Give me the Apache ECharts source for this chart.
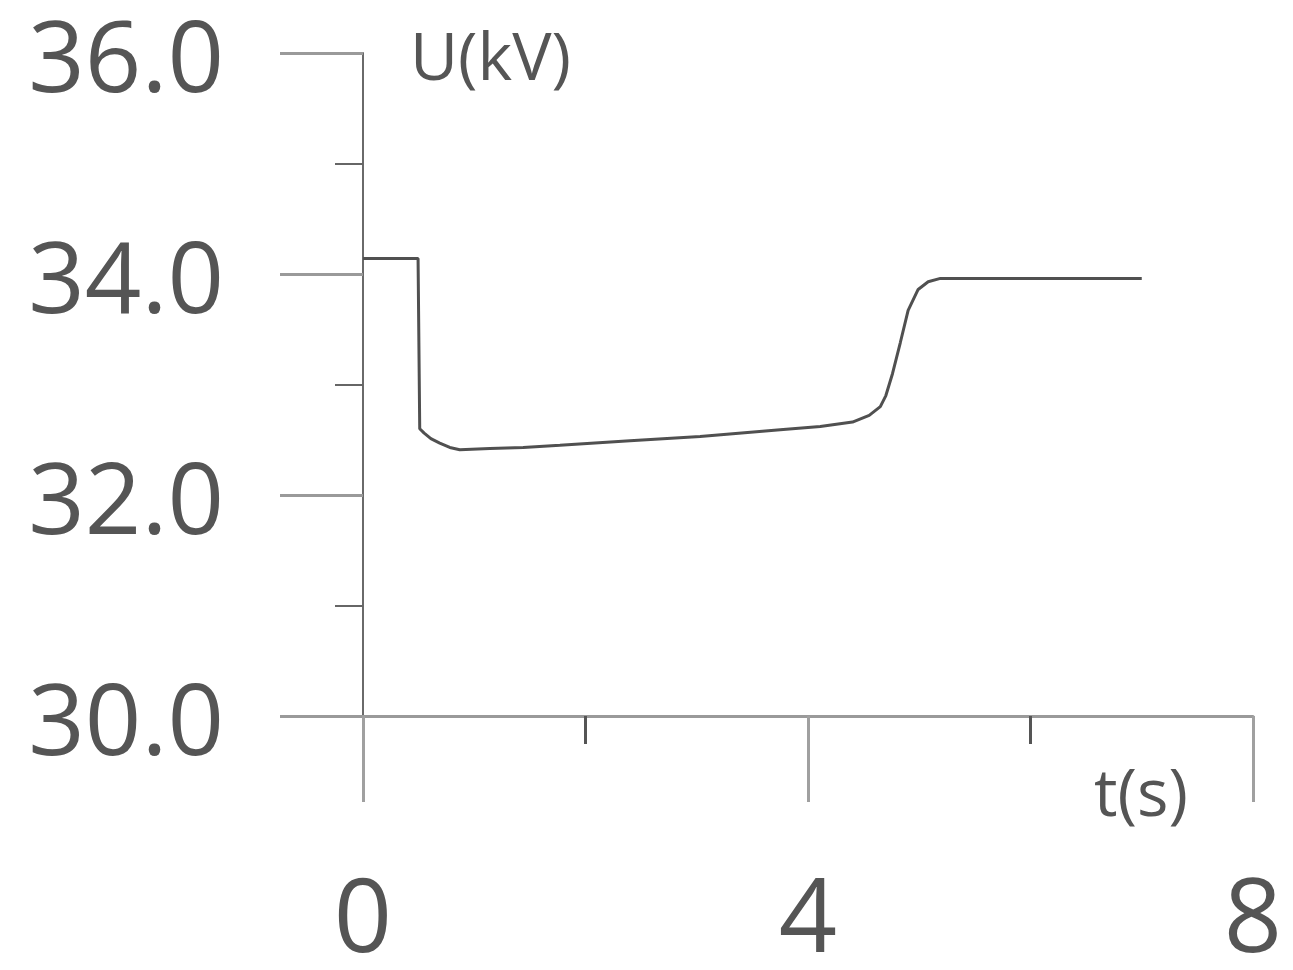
<!DOCTYPE html>
<html>
<head>
<meta charset="utf-8">
<script src="https://cdn.jsdelivr.net/npm/echarts@6/dist/echarts.min.js"></script>
<style>
  html, body { margin: 0; padding: 0; background: #fff; }
  #chart { width: 1293px; height: 970px; }
</style>
</head>
<body>
<div id="chart"></div>
<script>
// 时间 t(s)
var tValues = [0, 0.495, 0.51, 0.55, 0.61, 0.69, 0.78, 0.87, 1.14, 1.44, 1.77, 2.4, 3.03, 3.75, 4.11, 4.40, 4.55, 4.65, 4.70, 4.76, 4.83, 4.90, 4.99, 5.08, 5.19, 7.0]
// 电压 U(kV)
var uValues = [34.14, 34.14, 32.60, 32.56, 32.51, 32.47, 32.43, 32.41, 32.42, 32.43, 32.45, 32.49, 32.53, 32.59, 32.62, 32.66, 32.72, 32.80, 32.90, 33.10, 33.38, 33.67, 33.86, 33.93, 33.96, 33.96]

var yTickLabels = ['30.0', '32.0', '34.0', '36.0']
var xTickLabels = ['0', '4', '8']

var textColor = '#555555'
var fontName = 'Open Sans'

var myChart = echarts.init(document.getElementById('chart'))

var seriesData = tValues.map(function (t, i) {
  return [t, uValues[i]]
})

var option = {
  backgroundColor: '#fff',
  animation: false,
  grid: {
    left: 363,
    right: 40,
    top: 53,
    bottom: 254,
    containLabel: false,
    outerBoundsMode: 'none'
  },
  xAxis: {
    type: 'value',
    min: 0,
    max: 8,
    interval: 4,
    name: 't(s)',
    nameLocation: 'end',
    nameGap: -65,
    nameTextStyle: {
      fontFamily: fontName,
      fontSize: 66,
      color: textColor,
      align: 'right',
      verticalAlign: 'top',
      padding: [48, 0, 0, 0]
    },
    axisLine: {
      show: true,
      lineStyle: { color: '#9a9a9a', width: 3 }
    },
    axisTick: {
      show: true,
      length: 86,
      lineStyle: { color: '#a0a0a0', width: 3 }
    },
    minorTick: {
      show: true,
      splitNumber: 2,
      length: 28,
      lineStyle: { color: '#555', width: 3 }
    },
    splitLine: { show: false },
    axisLabel: {
      fontFamily: fontName,
      fontSize: 102,
      color: textColor,
      margin: 156,
      formatter: function (v) {
        var idx = [0, 4, 8].indexOf(v)
        return idx >= 0 ? xTickLabels[idx] : ''
      }
    }
  },
  yAxis: {
    type: 'value',
    min: 30,
    max: 36,
    interval: 2,
    name: 'U(kV)',
    nameLocation: 'end',
    nameGap: -8,
    nameTextStyle: {
      fontFamily: fontName,
      fontSize: 66,
      color: textColor,
      align: 'left',
      verticalAlign: 'middle',
      padding: [0, 0, 0, 47]
    },
    axisLine: {
      show: true,
      lineStyle: { color: '#6a6a6a', width: 2 }
    },
    axisTick: {
      show: true,
      length: 83,
      lineStyle: { color: '#9a9a9a', width: 3 }
    },
    minorTick: {
      show: true,
      splitNumber: 2,
      length: 28,
      lineStyle: { color: '#666', width: 2 }
    },
    splitLine: { show: false },
    axisLabel: {
      fontFamily: fontName,
      fontSize: 99,
      color: textColor,
      margin: 139,
      verticalAlign: 'top',
      lineHeight: 22,
      formatter: function (v) {
        var idx = [30, 32, 34, 36].indexOf(v)
        return idx >= 0 ? yTickLabels[idx] : ''
      }
    }
  },
  series: [
    {
      name: 'U',
      type: 'line',
      data: seriesData,
      symbol: 'none',
      smooth: false,
      clip: false,
      lineStyle: { color: '#505050', width: 3 }
    }
  ]
}

myChart.setOption(option)
window.addEventListener('resize', function () {
  myChart.resize()
})
</script>
</body>
</html>
